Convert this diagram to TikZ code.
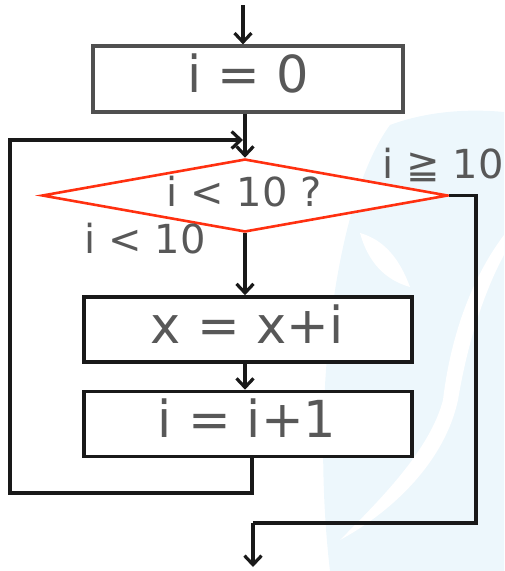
\documentclass[tikz,border=0pt]{standalone}
\usepackage{fontspec}
\setmainfont{DejaVu Sans}
\usetikzlibrary{arrows.meta,shapes.geometric}
\definecolor{txtgray}{HTML}{585858}
\definecolor{boxgray}{HTML}{505050}
\definecolor{dred}{HTML}{FF3010}
\definecolor{wmblue}{HTML}{EDF7FC}
\tikzset{
  arr/.style={line width=3.2pt, draw=black!90, -{Straight Barb[length=9pt,width=17pt]}},
  conn/.style={line width=3.2pt, draw=black!90},
  procbox/.style={draw=black!90, line width=3.6pt, fill=white, minimum width=328pt, minimum height=65pt, inner sep=0pt},
  startbox/.style={draw=boxgray, line width=3.2pt, fill=white, minimum width=310pt, minimum height=66pt, inner sep=0pt},
  bigtxt/.style={text=txtgray, font=\fontsize{51}{55}\selectfont, anchor=base, inner sep=0pt},
  midtxt/.style={text=txtgray, font=\fontsize{40}{44}\selectfont, anchor=base, inner sep=0pt},
}
\begin{document}
\begin{tikzpicture}[x=1pt,y=-1pt]
\useasboundingbox (0,0) rectangle (504,571);
% faint watermark
\fill[wmblue] (390,125) .. controls (335,200) and (310,400) .. (330,571) -- (504,571) -- (504,112) .. controls (462,108) and (422,113) .. (390,125) -- cycle;
\fill[white] (360,233) .. controls (385,240) and (400,260) .. (410,287) .. controls (385,280) and (368,262) .. (360,233) -- cycle;
\fill[white] (504,235) .. controls (470,280) and (450,340) .. (443,400) .. controls (430,450) and (380,500) .. (340,540) .. controls (395,510) and (445,460) .. (458,400) .. controls (468,340) and (485,290) .. (504,255) -- cycle;
% nodes
\node[startbox] (b1) at (248,79) {};
\node[bigtxt] (t1) at (248,92) {i = 0};
\node[shape=diamond, draw=dred, line width=2.6pt, fill=white, minimum width=406pt, minimum height=73pt, inner sep=0pt] (d) at (245,195.5) {};
\node[midtxt] (td) at (244,206) {i < 10 ?};
\node[midtxt] (lyes) at (145,253) {i < 10};
\node[midtxt] (lno) at (443,178) {i ≧ 10};
\node[procbox] (b2) at (248,329.5) {};
\node[bigtxt] (t2) at (247,343) {x = x+i};
\node[procbox] (b3) at (248,424) {};
\node[bigtxt] (t3) at (247,437) {i = i+1};
% coordinates
\coordinate (start) at (243,5);
\coordinate (lb) at (10,493);
\coordinate (lt) at (243,140);
\coordinate (rb) at (476,523);
\coordinate (eb) at (253,523);
\coordinate (end) at (253,567);
% connectors
\draw[arr] (start) -- (start |- b1.north);
\draw[arr] (b1.south -| d.north) -- (d.north);
\draw[arr] ([xshift=4pt]b3.south) |- (lb) |- (lt);
\draw[arr] (d.south) -- (d.south |- b2.north);
\draw[arr] (b2.south -| d.south) -- (d.south |- b3.north);
\draw[conn] (d.east) -| (rb) -- (eb);
\draw[arr] (eb) -- (end);
\end{tikzpicture}
\end{document}
